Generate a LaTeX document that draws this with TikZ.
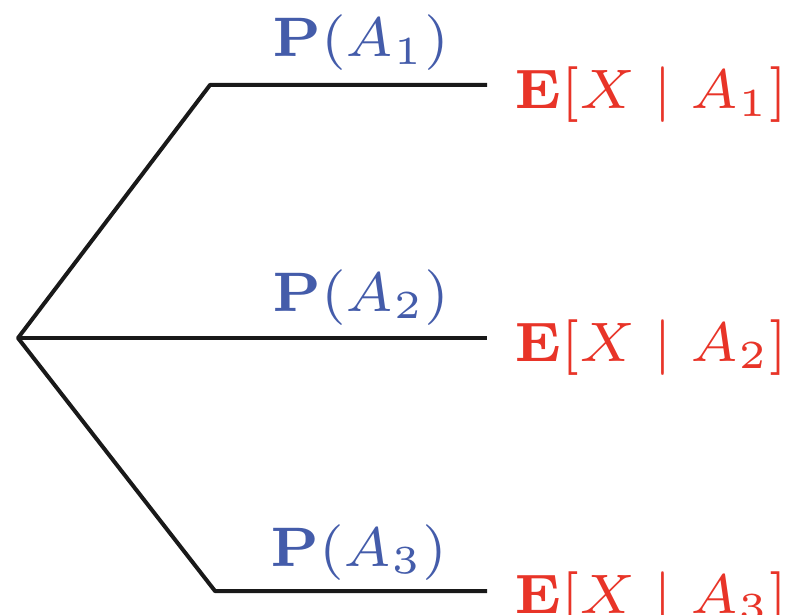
\documentclass[tikz,border=0pt]{standalone}
\usepackage{amsmath}
\usepackage{graphicx}
\definecolor{pblue}{RGB}{68,92,170}
\definecolor{ered}{RGB}{232,52,40}
\newcommand{\bigtxt}[1]{\scalebox{7.95}{\scriptsize #1}}
\begin{document}
\begin{tikzpicture}[x=1pt,y=-1pt,
  branch/.style={line width=4pt,line join=round,black!90},
  prob/.style={anchor=base west,inner sep=0pt,text=pblue},
  expect/.style={anchor=base west,inner sep=0pt,text=ered}]
\useasboundingbox (0,0) rectangle (785,615);
\coordinate (r) at (18,338);
\coordinate (c1) at (210,85);
\coordinate (e1) at (487,85);
\coordinate (e2) at (487,338);
\coordinate (c3) at (215,591);
\coordinate (e3) at (487,591);
\draw[branch] (e1) -- (c1) -- (r) -- (c3) -- (e3);
\draw[branch] (r) -- (e2);
\node[prob] (p1) at (272,57) {\bigtxt{$\mathbf{P}(A_1)$}};
\node[prob] (p2) at (272,311) {\bigtxt{$\mathbf{P}(A_2)$}};
\node[prob] (p3) at (270,566) {\bigtxt{$\mathbf{P}(A_3)$}};
\node[expect] (x1) at (514,109) {\bigtxt{$\mathbf{E}[X \mid A_1]$}};
\node[expect] (x2) at (514,361) {\bigtxt{$\mathbf{E}[X \mid A_2]$}};
\node[expect] (x3) at (514,613) {\bigtxt{$\mathbf{E}[X \mid A_3]$}};
\end{tikzpicture}
\end{document}
